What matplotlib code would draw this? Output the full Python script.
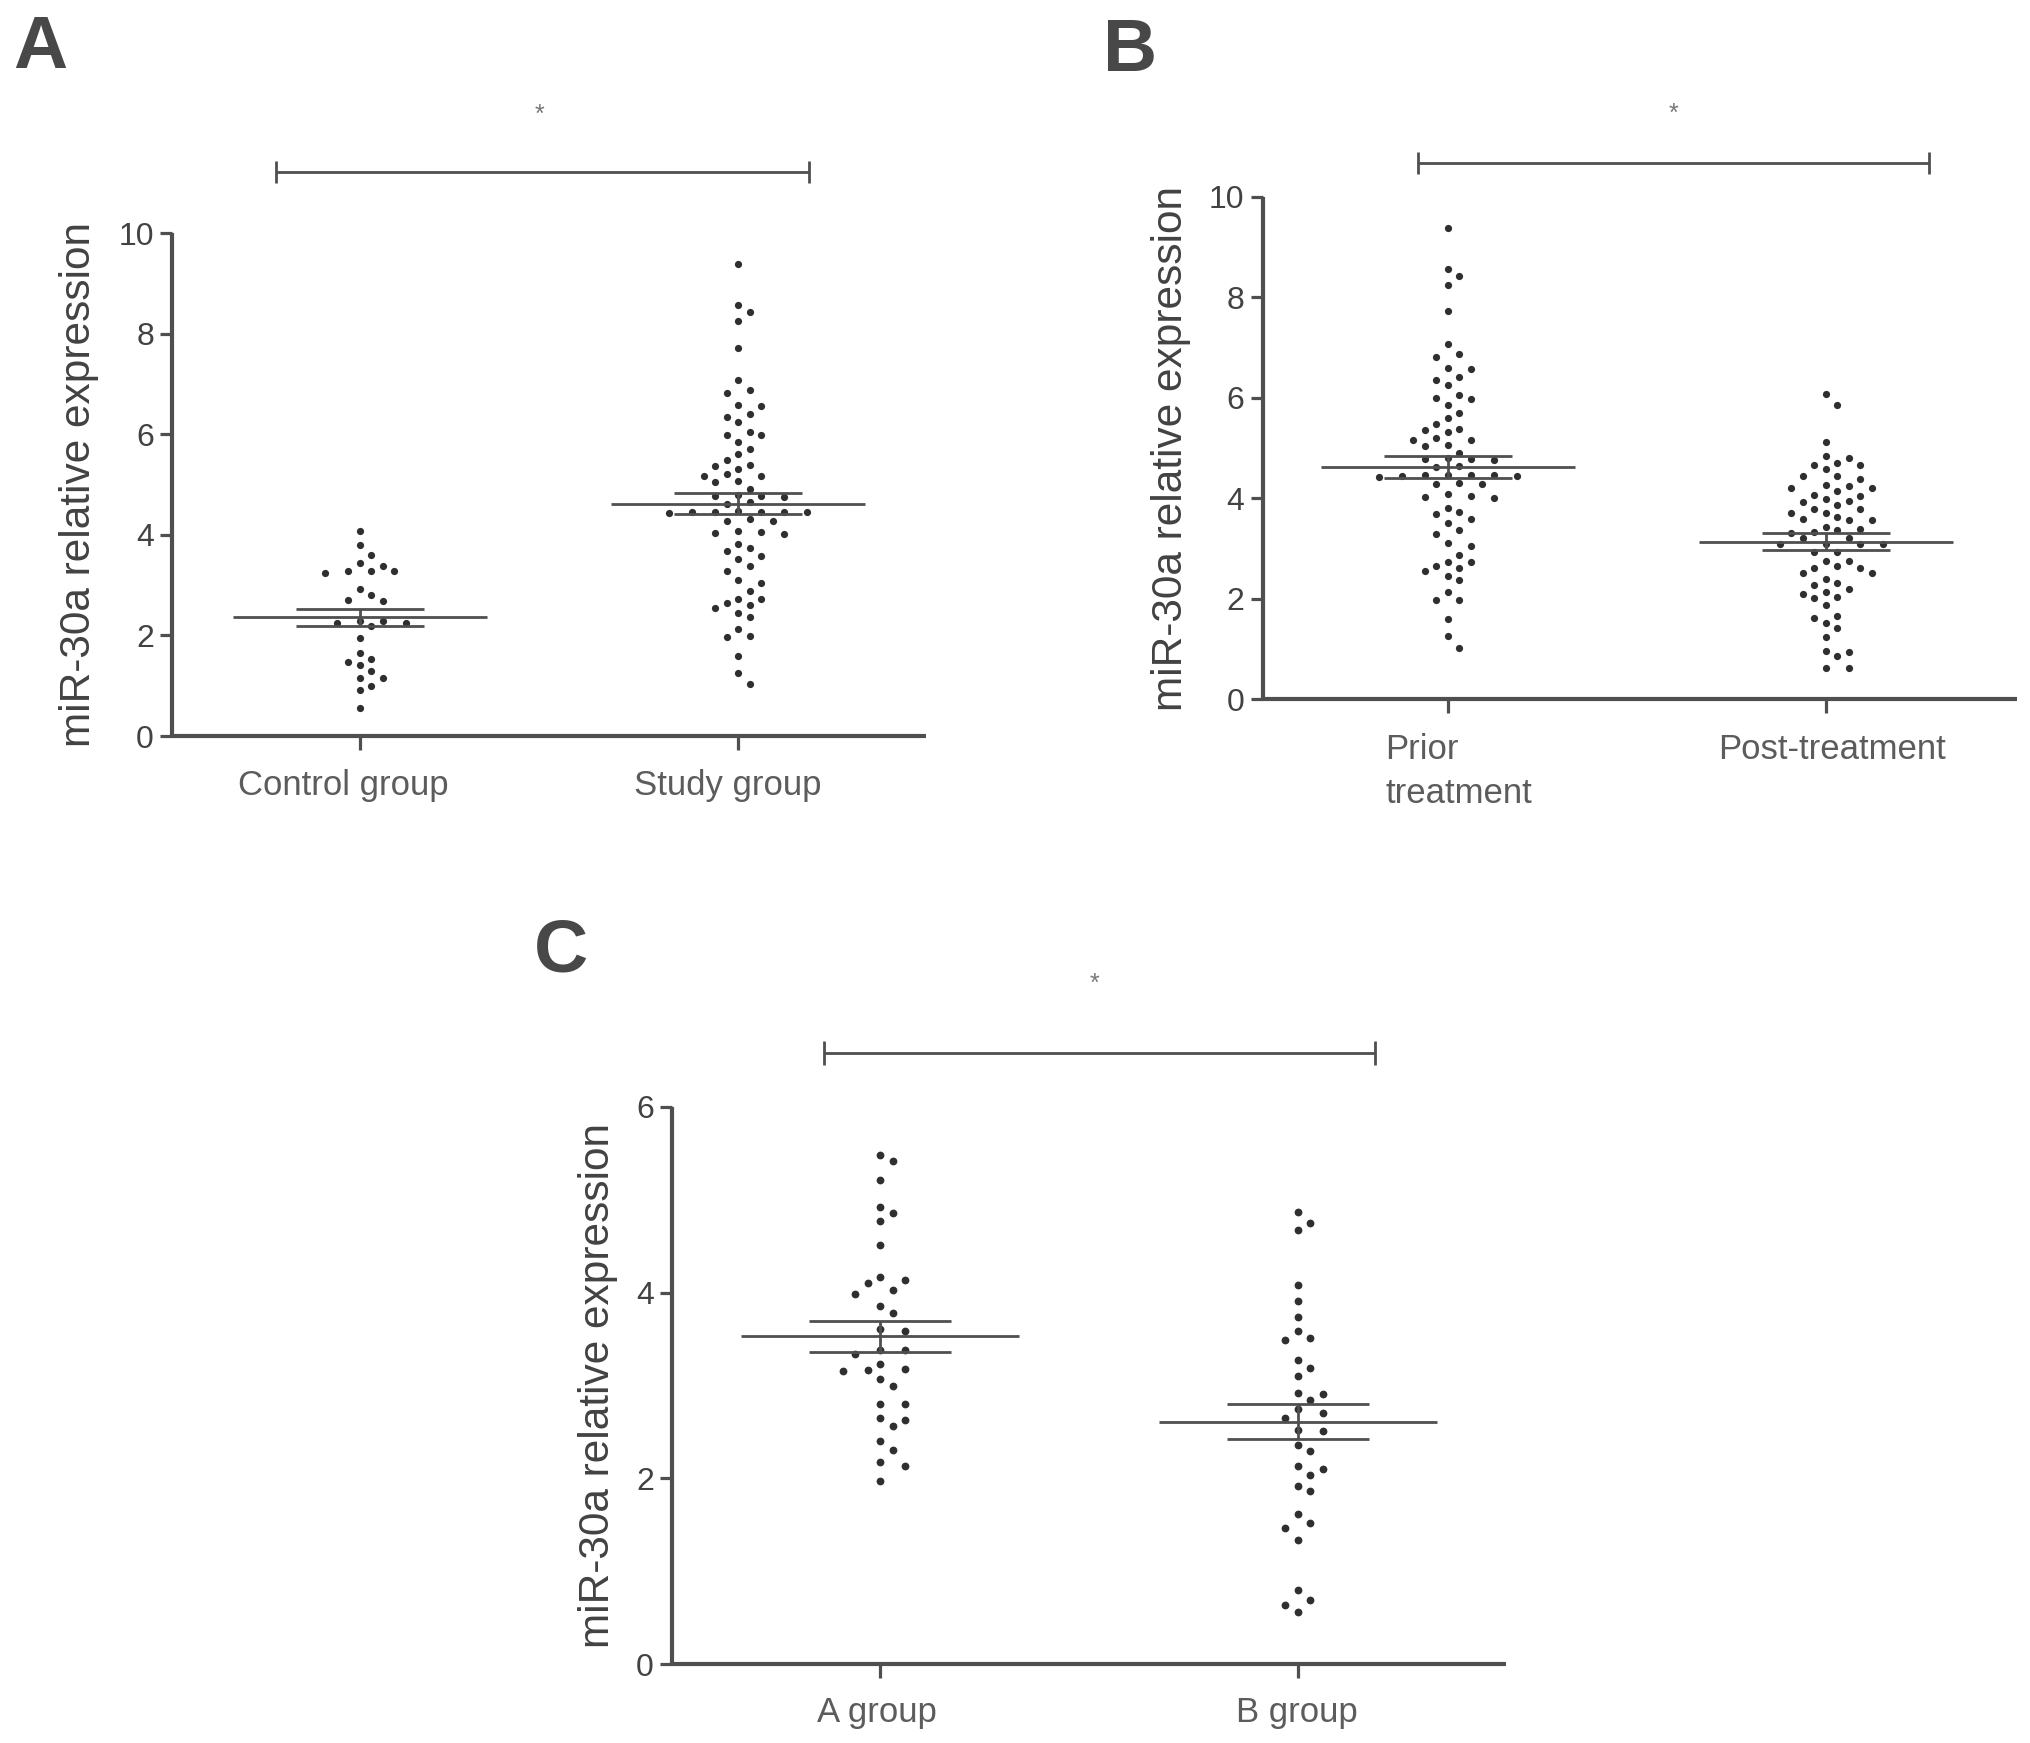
import numpy as np
import matplotlib
matplotlib.use("Agg")
import matplotlib.pyplot as plt
from matplotlib.transforms import ScaledTranslation

plt.rcParams['font.family'] = ['Liberation Sans', 'DejaVu Sans']

# ---------------- data ----------------
control_group = [4.07, 3.79, 3.59, 3.43, 3.37, 3.29, 3.28, 3.28, 3.24, 2.93, 2.80, 2.71, 2.69,
                 2.28, 2.28, 2.25, 2.25, 2.18, 1.94, 1.66, 1.54, 1.48, 1.41, 1.30, 1.16, 1.15,
                 0.99, 0.92, 0.55]
study_group = [9.38, 8.56, 8.43, 8.25, 7.72, 7.08, 6.87, 6.82, 6.59, 6.57, 6.41, 6.35, 6.25,
               6.05, 5.99, 5.98, 5.85, 5.70, 5.60, 5.48, 5.38, 5.36, 5.31, 5.20, 5.17, 5.17,
               5.06, 5.05, 4.91, 4.80, 4.78, 4.78, 4.76, 4.65, 4.62, 4.47, 4.46, 4.46, 4.46,
               4.45, 4.45, 4.43, 4.31, 4.28, 4.28, 4.08, 4.05, 4.03, 4.01, 3.81, 3.73, 3.68,
               3.58, 3.51, 3.37, 3.28, 3.11, 3.05, 2.88, 2.73, 2.73, 2.65, 2.61, 2.55, 2.45,
               2.37, 2.13, 1.98, 1.97, 1.59, 1.25, 1.03]
prior_treatment = list(study_group)
post_treatment = [6.07, 5.85, 5.12, 4.84, 4.80, 4.70, 4.67, 4.67, 4.58, 4.44, 4.44, 4.39, 4.26,
                  4.25, 4.21, 4.21, 4.14, 4.06, 4.05, 3.99, 3.94, 3.93, 3.87, 3.79, 3.78, 3.71,
                  3.71, 3.63, 3.58, 3.56, 3.56, 3.43, 3.38, 3.36, 3.33, 3.30, 3.21, 3.21, 3.10,
                  3.10, 3.09, 3.09, 2.93, 2.93, 2.75, 2.75, 2.65, 2.61, 2.61, 2.52, 2.52, 2.40,
                  2.32, 2.27, 2.19, 2.14, 2.10, 2.04, 2.02, 1.87, 1.66, 1.61, 1.52, 1.41, 1.24,
                  0.96, 0.94, 0.86, 0.62, 0.62]
a_group = [5.48, 5.42, 5.21, 4.92, 4.86, 4.77, 4.51, 4.17, 4.14, 4.10, 4.03, 3.99, 3.86, 3.78,
           3.61, 3.59, 3.38, 3.38, 3.34, 3.23, 3.18, 3.17, 3.16, 3.07, 3.00, 2.80, 2.80, 2.65,
           2.63, 2.56, 2.40, 2.31, 2.18, 2.13, 1.97]
b_group = [4.87, 4.75, 4.67, 4.08, 3.91, 3.74, 3.59, 3.51, 3.49, 3.27, 3.19, 3.10, 2.92, 2.91,
           2.84, 2.75, 2.70, 2.65, 2.52, 2.51, 2.36, 2.29, 2.13, 2.10, 2.04, 1.92, 1.86, 1.62,
           1.52, 1.47, 1.34, 0.80, 0.69, 0.64, 0.56]

categories_A = ["Control group", "Study group"]
categories_B = ["Prior\ntreatment", "Post-treatment"]
categories_C = ["A group", "B group"]

means_A = [2.36, 4.62]
sems_A = [0.17, 0.215]
means_B = [4.62, 3.14]
sems_B = [0.215, 0.165]
means_C = [3.53, 2.61]
sems_C = [0.165, 0.19]

yticks_AB = [0, 2, 4, 6, 8, 10]
yticks_C = [0, 2, 4, 6]
ylabel = "miR-30a relative expression"
star = "*"

# ---------------- style ----------------
W, H = 2031, 1743
DPI = 100
LINE = '#4f4f4f'
DOT = '#2f2f2f'
TICKTXT = '#424242'
CATTXT = '#5c5c5c'

fig = plt.figure(figsize=(W / DPI, H / DPI), dpi=DPI)
fig.patch.set_facecolor('white')


def px_rect(x0, x1, y_top, y_bot):
    return [x0 / W, 1 - y_bot / H, (x1 - x0) / W, (y_bot - y_top) / H]


def swarm(ax, values, col_px, min_px):
    """Greedy beeswarm: discrete horizontal columns, no overlap in pixel space."""
    vals = np.asarray(values, float)
    p0 = ax.transData.transform((0, 0))
    p1 = ax.transData.transform((1, 1))
    xs, ys = p1[0] - p0[0], p1[1] - p0[1]
    order = np.argsort(-vals, kind='stable')
    cands = [0]
    for j in range(1, 30):
        cands += [j, -j]
    placed = []
    cols = np.zeros(len(vals))
    for i in order:
        y = vals[i] * ys
        for c in cands:
            if all(((c - pc) * col_px) ** 2 + (y - py) ** 2 >= min_px ** 2 for pc, py in placed):
                break
        placed.append((c, y))
        cols[i] = c
    return cols * col_px / xs


def panel(rect, xlim, ymax, yticks, cats, groups, means, sems, bracket, star_xy,
          ylabel_x, col_px, min_px, ms, cap_half, mean_half, lab_shift, lab_pad,
          bracket_tick):
    ax = fig.add_axes(rect)
    ax.set_xlim(*xlim)
    ax.set_ylim(0, ymax)
    for s in ['top', 'right']:
        ax.spines[s].set_visible(False)
    for s in ['left', 'bottom']:
        ax.spines[s].set_linewidth(3.0)
        ax.spines[s].set_color(LINE)
        ax.spines[s].set_capstyle('butt')
    ax.set_yticks(yticks)
    ax.set_yticklabels([str(t) for t in yticks])
    ax.tick_params(axis='y', direction='out', length=8.5, width=2.3, color=LINE,
                   labelsize=23, labelcolor=TICKTXT, pad=4.5)
    ax.set_xticks(range(len(cats)))
    ax.set_xticklabels(cats)
    ax.tick_params(axis='x', direction='out', length=10, width=2.3, color=LINE,
                   labelsize=25, labelcolor=CATTXT, pad=lab_pad)
    for lab, dx in zip(ax.get_xticklabels(), lab_shift):
        lab.set_multialignment('left')
        lab.set_linespacing(1.42)
        lab.set_transform(lab.get_transform() + ScaledTranslation(dx / DPI, 0, fig.dpi_scale_trans))

    for i, vals in enumerate(groups):
        offs = swarm(ax, vals, col_px, min_px)
        ax.plot(i + offs, vals, 'o', ms=ms, color=DOT, mec='none', zorder=3, clip_on=False)
        m, s = means[i], sems[i]
        ax.hlines(m, i - mean_half, i + mean_half, color=LINE, lw=2.0, zorder=4)
        ax.hlines([m - s, m + s], i - cap_half, i + cap_half, color=LINE, lw=2.0, zorder=4)
        ax.vlines(i, m - s, m + s, color=LINE, lw=2.0, zorder=4)

    bx0, bx1, by = bracket
    ax.plot([bx0, bx1], [by, by], color=LINE, lw=2.0, clip_on=False, solid_capstyle='butt')
    for bx in (bx0, bx1):
        ax.plot([bx, bx], [by - bracket_tick, by + bracket_tick], color=LINE, lw=2.0,
                clip_on=False, solid_capstyle='butt')
    ax.text(star_xy[0], star_xy[1], star, ha='center', va='center', fontsize=18,
            color='#777777', clip_on=False)

    ax.set_ylabel(ylabel, fontsize=30.5, color=TICKTXT)
    ax.yaxis.label.set_va('center')
    ax.yaxis.set_label_coords(ylabel_x, 0.5)
    return ax


# Panel A
panel(px_rect(172, 926, 233, 736), (-0.497, 1.497), 10, yticks_AB, categories_A,
      [control_group, study_group], means_A, sems_A,
      bracket=(-0.222, 1.188, 11.21), star_xy=(0.475, 12.35), ylabel_x=-0.124,
      col_px=11.5, min_px=12.0, ms=5.2, cap_half=0.17, mean_half=0.336,
      lab_shift=[-17, -10], lab_pad=14, bracket_tick=0.22)

# Panel B
panel(px_rect(1262.6, 2016.8, 196.8, 699.3), (-0.49, 1.505), 10, yticks_AB, categories_B,
      [prior_treatment, post_treatment], means_B, sems_B,
      bracket=(-0.079, 1.274, 10.67), star_xy=(0.598, 11.65), ylabel_x=-0.121,
      col_px=11.5, min_px=12.0, ms=5.2, cap_half=0.17, mean_half=0.336,
      lab_shift=[11, 6], lab_pad=14, bracket_tick=0.22)

# Panel C
panel(px_rect(672, 1506, 1107, 1664), (-0.498, 1.498), 6, yticks_C, categories_C,
      [a_group, b_group], means_C, sems_C,
      bracket=(-0.135, 1.184, 6.586), star_xy=(0.513, 7.33), ylabel_x=-0.0885,
      col_px=12.5, min_px=13.5, ms=5.6, cap_half=0.169, mean_half=0.333,
      lab_shift=[-3, -1], lab_pad=13, bracket_tick=0.13)

# Panel letters
for letter, x, yb in [("A", 13, 68), ("B", 1103, 71), ("C", 534, 972)]:
    fig.text(x / W, 1 - yb / H, letter, fontsize=54, fontweight='bold', color='#484848',
             ha='left', va='baseline')

fig.savefig("out.png", dpi=DPI, facecolor='white')
